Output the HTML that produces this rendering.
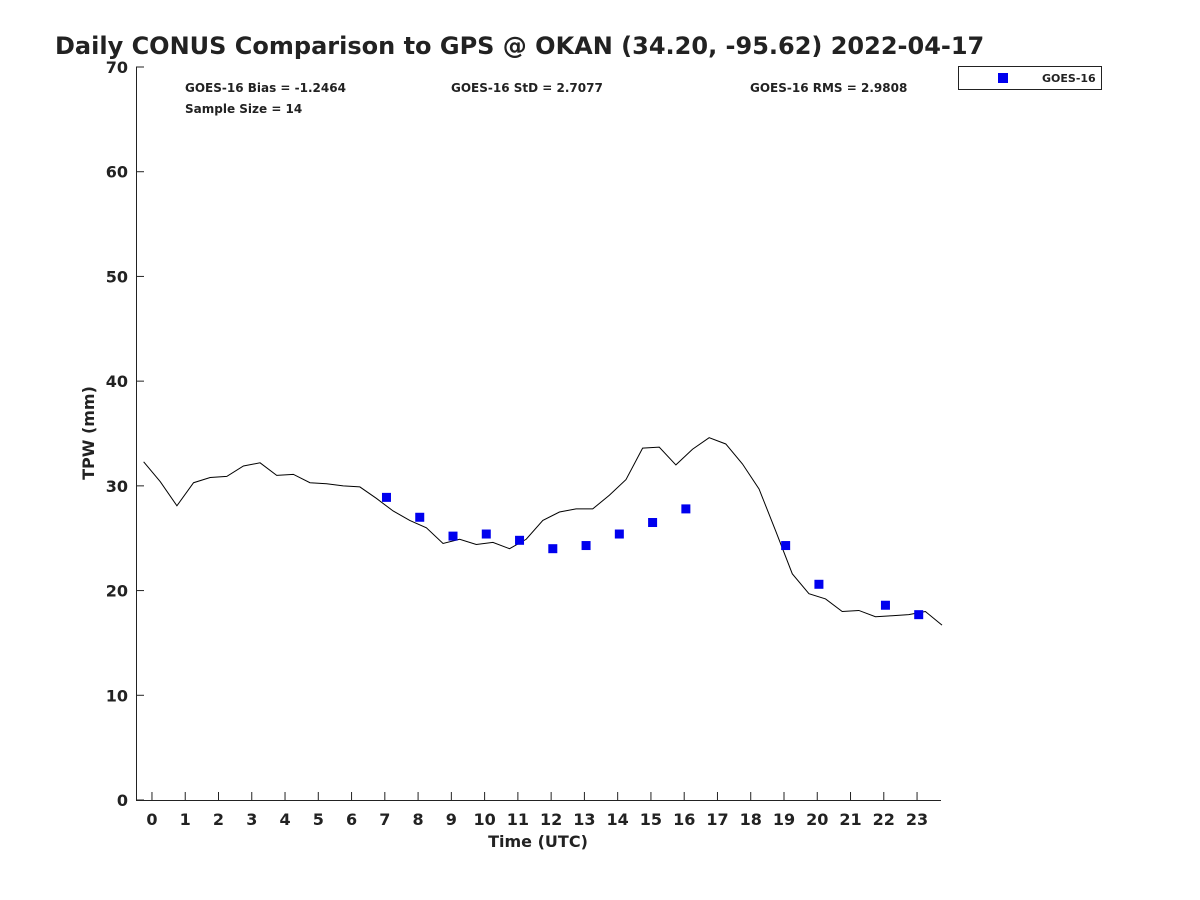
<!DOCTYPE html>
<html><head><meta charset="utf-8"><style>body{margin:0;background:#fff}svg{display:block}text{font-family:"DejaVu Sans","Liberation Sans",sans-serif;font-weight:bold;fill:#222}</style></head>
<body>
<svg id="chart" width="1200" height="900">
<text x="55" y="54" font-size="24" fill="#000">Daily CONUS Comparison to GPS @ OKAN (34.20, -95.62) 2022-04-17</text>
<g font-size="12">
<text x="185" y="92">GOES-16 Bias = -1.2464</text>
<text x="451" y="92">GOES-16 StD = 2.7077</text>
<text x="750" y="92">GOES-16 RMS = 2.9808</text>
<text x="185" y="113">Sample Size = 14</text>
</g>
<g>
<rect x="958.5" y="66.5" width="143" height="23" fill="#fff" stroke="#222"/>
<rect x="998" y="73" width="10" height="10" fill="#0000ee"/>
<text x="1042" y="82" font-size="11">GOES-16</text>
</g>
<g id="axes"></g>
<g id="marks"></g>
<text x="538" y="847" font-size="16" text-anchor="middle">Time (UTC)</text>
<text transform="translate(94,433) rotate(-90)" font-size="16" text-anchor="middle">TPW (mm)</text>
</svg>
<script>
const lineHours=[-0.25,0.25,0.75,1.25,1.75,2.25,2.75,3.25,3.75,4.25,4.75,5.25,5.75,6.25,6.75,7.25,7.75,8.25,8.75,9.25,9.75,10.25,10.75,11.25,11.75,12.25,12.75,13.25,13.75,14.25,14.75,15.25,15.75,16.25,16.75,17.25,17.75,18.25,18.75,19.25,19.75,20.25,20.75,21.25,21.75,22.25,22.75,23.25,23.75];
const gpsValues=[32.3,30.4,28.1,30.3,30.8,30.9,31.9,32.2,31.0,31.1,30.3,30.2,30.0,29.9,28.8,27.6,26.7,26.0,24.5,24.9,24.4,24.6,24.0,24.9,26.7,27.5,27.8,27.8,29.1,30.6,33.6,33.7,32.0,33.5,34.6,34.0,32.1,29.7,25.7,21.6,19.7,19.2,18.0,18.1,17.5,17.6,17.7,18.0,16.7];
const goesHours=[7.05,8.05,9.05,10.05,11.05,12.05,13.05,14.05,15.05,16.05,19.05,20.05,22.05,23.05];
const goesValues=[28.9,27.0,25.2,25.4,24.8,24.0,24.3,25.4,26.5,27.8,24.3,20.6,18.6,17.7];
const xTicks=[0,1,2,3,4,5,6,7,8,9,10,11,12,13,14,15,16,17,18,19,20,21,22,23];
const yTicks=[0,10,20,30,40,50,60,70];
const X0=136,X1=941,Y0=800,Y1=67,HMIN=-0.48,HMAX=23.72,VMAX=70;
const xs=h=>X0+(h-HMIN)/(HMAX-HMIN)*(X1-X0);
const ys=v=>Y0-v/VMAX*(Y0-Y1);
const NS="http://www.w3.org/2000/svg";
function mk(tag,parent,attrs){const e=document.createElementNS(NS,tag);for(const k in attrs)e.setAttribute(k,attrs[k]);parent.appendChild(e);return e;}
const ax=document.getElementById('axes'),mg=document.getElementById('marks');
let a=mk('path',ax,{d:`M${X0+.5},${Y1}V${Y0+.5}H${X1}`,fill:'none',stroke:'#222'});


xTicks.forEach(t=>{const x=xs(t);
 const l=mk('line',ax,{x1:x,x2:x,y1:Y0,y2:Y0-8,stroke:'#222'});
 
 
 const tx=mk('text',ax,{x:x,y:Y0+25,'font-size':16,'text-anchor':'middle'});tx.textContent=t;
 
 });
yTicks.forEach(t=>{const y=ys(t);
 const l=mk('line',ax,{x1:X0,x2:X0+8,y1:y,y2:y,stroke:'#222'});
 
 
 const tx=mk('text',ax,{x:X0-8,y:y+6,'font-size':16,'text-anchor':'end'});tx.textContent=t;
 
 });
const pl=mk('polyline',mg,{points:lineHours.map((h,i)=>xs(h)+','+ys(gpsValues[i])).join(' '),fill:'none',stroke:'#000','stroke-width':1});


goesHours.forEach((h,i)=>{const r=mk('rect',mg,{x:xs(h)-4.5,y:ys(goesValues[i])-4.5,width:9,height:9,fill:'#0000ee'});
 
 });
</script>
</body></html>
